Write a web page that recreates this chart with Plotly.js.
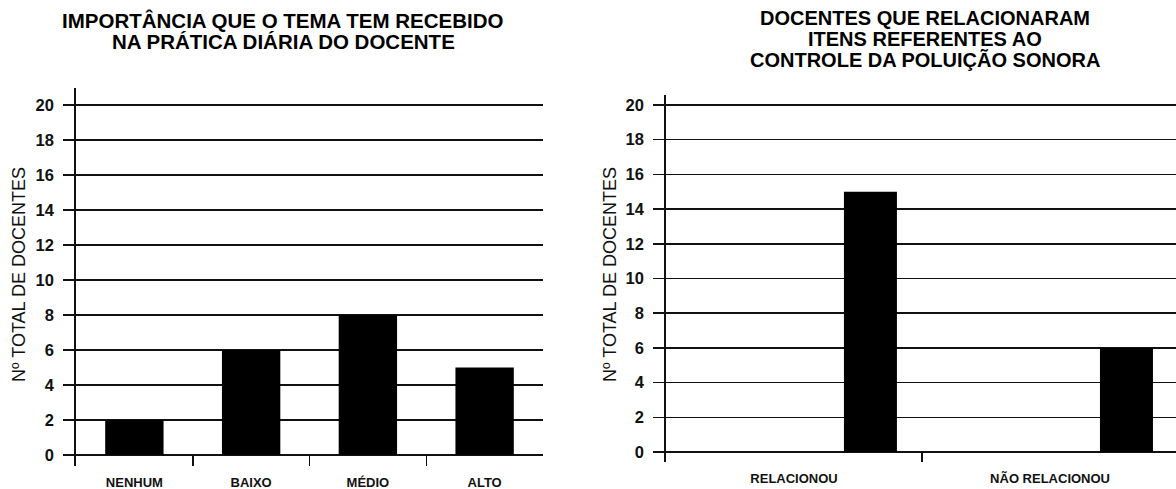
<!DOCTYPE html>
<html>
<head>
<meta charset="utf-8">
<script src="https://cdn.plot.ly/plotly-3.0.1.min.js"></script>
<style>html,body{margin:0;padding:0;background:#fff;}#chart{width:1176px;height:489px;}</style>
</head>
<body>
<div id="chart"></div>
<script>
// ---- data ----
const leftCategories = ["NENHUM", "BAIXO", "MÉDIO", "ALTO"];
const leftValues = [2, 6, 8, 5];
const rightCategories = ["RELACIONOU", "NÃO RELACIONOU"];
const rightValues = [15, 6];
const leftTitleLines = ["IMPORTÂNCIA QUE O TEMA TEM RECEBIDO", "NA PRÁTICA DIÁRIA DO DOCENTE"];
const rightTitleLines = ["DOCENTES QUE RELACIONARAM", "ITENS REFERENTES AO", "CONTROLE DA POLUIÇÃO SONORA"];
const yAxisTitle = "Nº TOTAL DE DOCENTES";

// ---- layout helpers ----
const W = 1176, H = 489;
const FONT = '"Liberation Sans", Arial, Helvetica, sans-serif';
const px = x => x / W;
const py = y => (H - y) / H;

const traces = [
  {type: 'bar', x: leftCategories, y: leftValues, xaxis: 'x', yaxis: 'y',
   marker: {color: '#000', line: {width: 0}}, hoverinfo: 'x+y'},
  {type: 'bar', x: rightCategories, y: rightValues, xaxis: 'x2', yaxis: 'y2',
   offset: 0.195, width: 0.207,
   marker: {color: '#000', line: {width: 0}}, hoverinfo: 'x+y'}
];

function yAx(domain, range, anchor) {
  return {
    domain: domain, range: range, anchor: anchor,
    tickmode: 'linear', tick0: 0, dtick: 2,
    showgrid: true, gridcolor: '#111', gridwidth: 1.5,
    zeroline: true, zerolinecolor: '#111', zerolinewidth: 1.5,
    showline: true, linecolor: '#111', linewidth: 1.8,
    ticks: 'outside', ticklen: 11, tickwidth: 1.5, tickcolor: '#111',
    ticklabelstandoff: 6,
    tickfont: {family: FONT, size: 16.5, color: '#111', weight: 'bold'},
    fixedrange: true
  };
}
function xAx(domain, range, anchor) {
  return {
    domain: domain, range: range, anchor: anchor, type: 'category',
    showgrid: false, zeroline: false, showline: false,
    tickson: 'boundaries',
    ticks: 'inside', ticklen: 11, tickwidth: 1.5, tickcolor: '#111',
    ticklabelstandoff: 7,
    tickfont: {family: FONT, size: 13, color: '#111', weight: 'bold'},
    fixedrange: true
  };
}

const annotations = [];
leftTitleLines.forEach((t, i) => annotations.push({
  text: t, xref: 'paper', yref: 'paper', x: px(283), y: py(20 + i * 22),
  xanchor: 'center', yanchor: 'middle', showarrow: false,
  font: {family: FONT, size: 20.5, color: '#000', weight: 'bold'}
}));
rightTitleLines.forEach((t, i) => annotations.push({
  text: t, xref: 'paper', yref: 'paper', x: px(925), y: py(18 + i * 21),
  xanchor: 'center', yanchor: 'middle', showarrow: false,
  font: {family: FONT, size: 20, color: '#000', weight: 'bold'}
}));
[[19, 275], [610, 275]].forEach(p => annotations.push({
  text: yAxisTitle, xref: 'paper', yref: 'paper', x: px(p[0]), y: py(p[1]),
  xanchor: 'center', yanchor: 'middle', textangle: -90, showarrow: false,
  font: {family: FONT, size: 18, color: '#111'}
}));

const layout = {
  width: W, height: H,
  margin: {l: 0, r: 0, t: 0, b: 0},
  paper_bgcolor: '#fff', plot_bgcolor: 'rgba(0,0,0,0)',
  showlegend: false,
  bargap: 0.5,
  xaxis: xAx([px(76), px(543)], [-0.5, 3.5], 'y'),
  yaxis: yAx([py(466), py(88)], [-0.629, 20.971], 'x'),
  xaxis2: xAx([px(666), 1], [-0.5, 1.492], 'y2'),
  yaxis2: yAx([py(462), py(95)], [-0.576, 20.576], 'x2'),
  annotations: annotations
};

Plotly.newPlot('chart', traces, layout, {displayModeBar: false, staticPlot: true});
</script>
</body>
</html>
